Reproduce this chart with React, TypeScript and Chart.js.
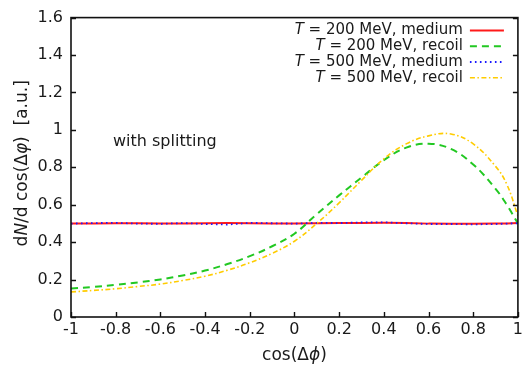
import { useEffect, useRef } from 'react';
import { Chart, registerables } from 'chart.js';

Chart.register(...registerables);

// cos(Δφ) sample positions
const cosDphi = [-1, -0.9, -0.8, -0.7, -0.6, -0.5, -0.4, -0.3, -0.2, -0.1, 0, 0.1, 0.2, 0.3, 0.4, 0.5, 0.6, 0.7, 0.8, 0.9, 0.95, 1];

// dN/dcos(Δφ) for each case
const medium200 = [0.500, 0.500, 0.501, 0.501, 0.500, 0.499, 0.501, 0.502, 0.501, 0.499, 0.500, 0.501, 0.502, 0.503, 0.504, 0.503, 0.499, 0.498, 0.498, 0.499, 0.500, 0.502];
const recoil200 = [0.152, 0.161, 0.172, 0.185, 0.201, 0.222, 0.248, 0.283, 0.325, 0.378, 0.445, 0.55, 0.65, 0.745, 0.838, 0.905, 0.926, 0.898, 0.815, 0.685, 0.60, 0.50];
const medium500 = [0.499, 0.502, 0.503, 0.499, 0.498, 0.502, 0.497, 0.494, 0.503, 0.501, 0.499, 0.503, 0.502, 0.505, 0.506, 0.501, 0.497, 0.497, 0.495, 0.497, 0.499, 0.501];
const recoil500 = [0.134, 0.142, 0.151, 0.163, 0.176, 0.195, 0.218, 0.25, 0.29, 0.34, 0.405, 0.50, 0.61, 0.73, 0.845, 0.925, 0.968, 0.978, 0.925, 0.805, 0.71, 0.54];

const temperatures = ['200', '200', '500', '500'];
const kinds = ['medium', 'recoil', 'medium', 'recoil'];
const annotation = 'with splitting';

const FONT = '"DejaVu Sans", sans-serif';

type Seg = { t: string; i?: boolean };

const seriesStyles = [
  { color: '#ff1a1a', dash: [] as number[], width: 2, tension: 0 },
  { color: '#22c822', dash: [7, 5], width: 2, tension: 0.4 },
  { color: '#1a1aff', dash: [1.6, 3.4], width: 1.8, tension: 0 },
  { color: '#ffcc00', dash: [5, 2.5, 1.5, 2.5], width: 1.6, tension: 0.4 },
];

const fmt = (v: number) => String(Math.round(v * 10) / 10);

function segFont(s: Seg, size: number) {
  return `${s.i ? 'italic ' : ''}${size}px ${FONT}`;
}

function richWidth(ctx: CanvasRenderingContext2D, segs: Seg[], size: number) {
  let w = 0;
  for (const s of segs) {
    ctx.font = segFont(s, size);
    w += ctx.measureText(s.t).width;
  }
  return w;
}

// draws a run of plain/italic text; x is the left edge
function drawRich(ctx: CanvasRenderingContext2D, segs: Seg[], x: number, y: number, size: number) {
  let cx = x;
  ctx.textBaseline = 'middle';
  ctx.textAlign = 'left';
  for (const s of segs) {
    ctx.font = segFont(s, size);
    ctx.fillText(s.t, cx, y);
    cx += ctx.measureText(s.t).width;
  }
}

const framePlugin = {
  id: 'frameAndLabels',
  afterDraw(chart: any) {
    const ctx: CanvasRenderingContext2D = chart.ctx;
    const { left, right, top, bottom } = chart.chartArea;
    const xs = chart.scales.x;
    const ys = chart.scales.y;
    ctx.save();
    ctx.strokeStyle = '#111';
    ctx.lineWidth = 1.4;
    // inward tick marks
    ctx.beginPath();
    for (const t of xs.ticks) {
      const px = Math.round(xs.getPixelForValue(t.value)) + 0.5;
      ctx.moveTo(px, bottom);
      ctx.lineTo(px, bottom - 5);
    }
    for (const t of ys.ticks) {
      const py = Math.round(ys.getPixelForValue(t.value)) + 0.5;
      ctx.moveTo(left, py);
      ctx.lineTo(left + 5, py);
      ctx.moveTo(right, py);
      ctx.lineTo(right - 5, py);
    }
    ctx.stroke();
    // frame
    ctx.lineWidth = 1.6;
    ctx.strokeRect(left, top, right - left, bottom - top);

    ctx.fillStyle = '#1a1a1a';
    // legend: right-aligned labels, sample lines on the right
    const textRight = right - 55;
    const sx0 = right - 48;
    const sx1 = right - 14;
    for (let k = 0; k < temperatures.length; k++) {
      const y = top + 13 + k * 15.7;
      const segs: Seg[] = [{ t: 'T', i: true }, { t: ` = ${temperatures[k]} MeV, ${kinds[k]}` }];
      const w = richWidth(ctx, segs, 15);
      ctx.fillStyle = '#1a1a1a';
      drawRich(ctx, segs, textRight - w, y, 15);
      const st = seriesStyles[k];
      ctx.strokeStyle = st.color;
      ctx.lineWidth = st.width;
      ctx.setLineDash(st.dash);
      ctx.beginPath();
      ctx.moveTo(sx0, y);
      ctx.lineTo(sx1, y);
      ctx.stroke();
      ctx.setLineDash([]);
    }

    // annotation inside the plot
    ctx.fillStyle = '#1a1a1a';
    drawRich(ctx, [{ t: annotation }], left + 42, ys.getPixelForValue(0.935), 16);

    // x-axis title
    const xt: Seg[] = [{ t: 'cos(Δ' }, { t: 'ϕ', i: true }, { t: ')' }];
    const xw = richWidth(ctx, xt, 17);
    drawRich(ctx, xt, (left + right) / 2 - xw / 2, 356, 17);

    // y-axis title
    const yt: Seg[] = [{ t: 'd' }, { t: 'N', i: true }, { t: '/d cos(Δ' }, { t: 'φ', i: true }, { t: ')  [a.u.]' }];
    const yw = richWidth(ctx, yt, 17);
    ctx.translate(23, (top + bottom) / 2 - 4);
    ctx.rotate(-Math.PI / 2);
    drawRich(ctx, yt, -yw / 2, 0, 17);
    ctx.restore();
  },
};

export default function App() {
  const ref = useRef<HTMLCanvasElement>(null);

  useEffect(() => {
    const series = [medium200, recoil200, medium500, recoil500];
    const chart = new Chart(ref.current!, {
      type: 'line',
      data: {
        datasets: series.map((vals, k) => ({
          label: `T = ${temperatures[k]} MeV, ${kinds[k]}`,
          data: cosDphi.map((x, i) => ({ x, y: vals[i] })),
          borderColor: seriesStyles[k].color,
          borderWidth: seriesStyles[k].width,
          borderDash: seriesStyles[k].dash,
          tension: seriesStyles[k].tension,
          pointRadius: 0,
          fill: false,
          order: 4 - k,
        })),
      },
      options: {
        responsive: false,
        devicePixelRatio: 1,
        animation: false,
        events: [],
        layout: { padding: { top: 15, right: 8, left: 0, bottom: 0 } },
        plugins: { legend: { display: false }, tooltip: { enabled: false }, title: { display: false } },
        scales: {
          x: {
            type: 'linear',
            min: -1,
            max: 1,
            grid: { display: false, drawTicks: false },
            border: { display: false },
            ticks: {
              stepSize: 0.2,
              autoSkip: false,
              maxRotation: 0,
              padding: 3,
              color: '#1a1a1a',
              font: { family: FONT, size: 16 },
              callback: (v: any) => fmt(Number(v)),
            },
            afterFit: (s: any) => {
              s.height = 49;
            },
          },
          y: {
            type: 'linear',
            min: 0,
            max: 1.6,
            grid: { display: false, drawTicks: false },
            border: { display: false },
            ticks: {
              stepSize: 0.2,
              autoSkip: false,
              padding: 8,
              color: '#1a1a1a',
              font: { family: FONT, size: 16 },
              callback: (v: any) => fmt(Number(v)),
            },
            afterFit: (s: any) => {
              s.width = 71;
            },
          },
        },
      },
      plugins: [framePlugin],
    });
    return () => chart.destroy();
  }, []);

  return (
    <div style={{ position: 'fixed', left: 0, top: 0, width: 526, height: 366, background: '#fff' }}>
      <canvas ref={ref} width={526} height={366} style={{ display: 'block' }} />
    </div>
  );
}
